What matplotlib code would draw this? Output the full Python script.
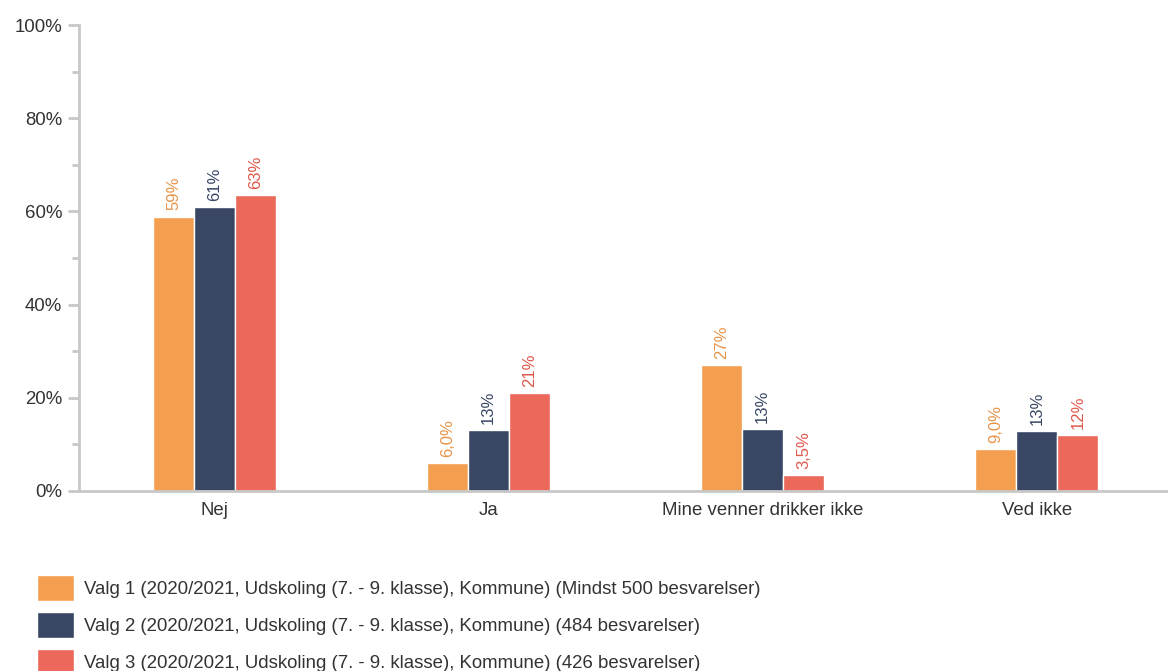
import matplotlib.pyplot as plt
import numpy as np

plt.rcParams['font.family'] = ['Liberation Sans', 'DejaVu Sans']

categories = ["Nej", "Ja", "Mine venner drikker ikke", "Ved ikke"]
valg1 = [58.9, 6.0, 27.0, 9.0]
valg2 = [61.0, 13.0, 13.3, 12.9]
valg3 = [63.5, 21.0, 3.5, 12.0]
labels1 = ["59%", "6,0%", "27%", "9,0%"]
labels2 = ["61%", "13%", "13%", "13%"]
labels3 = ["63%", "21%", "3,5%", "12%"]
series_names = [
    "Valg 1 (2020/2021, Udskoling (7. - 9. klasse), Kommune) (Mindst 500 besvarelser)",
    "Valg 2 (2020/2021, Udskoling (7. - 9. klasse), Kommune) (484 besvarelser)",
    "Valg 3 (2020/2021, Udskoling (7. - 9. klasse), Kommune) (426 besvarelser)",
]
colors = ["#F39F4F", "#394764", "#EB685A"]
text_colors = ["#E8944A", "#394764", "#E0584C"]

fig = plt.figure(figsize=(11.68, 6.71), dpi=100)
ax = fig.add_axes([0.0676, 0.2683, 0.935, 0.6944])

x = np.arange(len(categories))
w = 0.15
handles = []
for i, (vals, labs) in enumerate(zip([valg1, valg2, valg3], [labels1, labels2, labels3])):
    pos = x + (i - 1) * w
    bars = ax.bar(pos, vals, width=w, color=colors[i], edgecolor="white", linewidth=1)
    handles.append(bars)
    for p, v, lab in zip(pos, vals, labs):
        ax.text(p, v + 1.3, lab, rotation=90, ha="center", va="bottom",
                fontsize=12, color=text_colors[i])

ax.set_xlim(-0.495, 3.49)
ax.set_ylim(0, 100)
ax.set_yticks(np.arange(0, 101, 20))
ax.set_yticklabels([f"{v}%" for v in range(0, 101, 20)], fontsize=13.4, color="#333333")
ax.set_yticks(np.arange(10, 100, 20), minor=True)
ax.set_xticks(x)
ax.set_xticklabels(categories, fontsize=13.4, color="#333333")
ax.tick_params(axis="x", length=0, pad=8)
ax.tick_params(axis="y", which="major", length=8, width=2, color="#c8c8c8", pad=4)
ax.tick_params(axis="y", which="minor", length=5, width=2, color="#c8c8c8")

for s in ["top", "right"]:
    ax.spines[s].set_visible(False)
for s in ["left", "bottom"]:
    ax.spines[s].set_color("#c8c8c8")
    ax.spines[s].set_linewidth(2)

fig.legend(handles, series_names, loc="upper left", bbox_to_anchor=(0.0317, 0.143),
           frameon=False, fontsize=13.4, handlelength=2.0, handleheight=1.75,
           labelspacing=0.6, handletextpad=0.55, borderpad=0, borderaxespad=0,
           labelcolor="#333333")

fig.savefig("out.png", dpi=100)
